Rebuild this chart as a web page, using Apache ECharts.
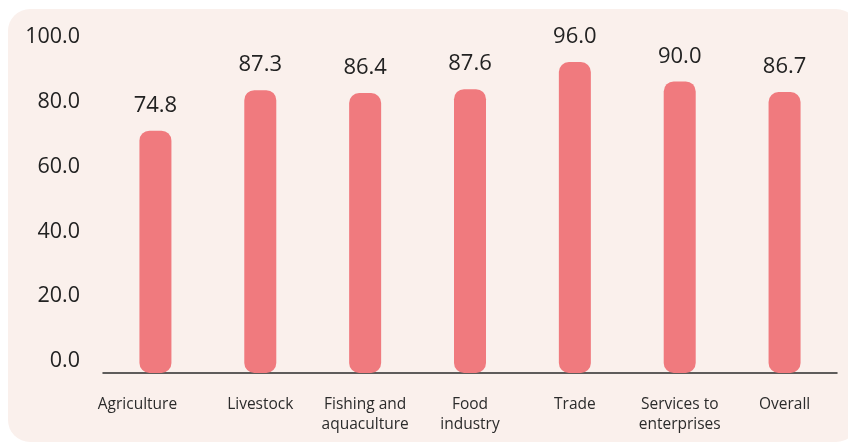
<!DOCTYPE html>
<html>
<head>
<meta charset="utf-8">
<script src="https://cdn.jsdelivr.net/npm/echarts@6/dist/echarts.min.js"></script>
<style>
  html, body { margin: 0; padding: 0; background: #ffffff; }
  #chart { width: 848px; height: 443px; }
</style>
</head>
<body>
<div id="chart"></div>
<script>
// Sector categories (x axis)
const categories = [
  'Agriculture',
  'Livestock',
  'Fishing and\naquaculture',
  'Food\nindustry',
  'Trade',
  'Services to\nenterprises',
  'Overall'
];

// Score per sector
const values = [74.8, 87.3, 86.4, 87.6, 96.0, 90.0, 86.7];

// Y axis range
const yMin = 0;
const yMax = 100;
const yStep = 20;

const FONT = '"Open Sans", "Liberation Sans", sans-serif';

const chart = echarts.init(document.getElementById('chart'), null, { renderer: 'canvas' });

// The first label sits a little left of its bar
const xData = categories.map((c, i) => i === 0
  ? { value: c, textStyle: { padding: [0, 36, 0, 0] } }
  : c);

chart.setOption({
  animation: false,
  backgroundColor: '#ffffff',
  graphic: [{
    type: 'rect',
    z: -10,
    silent: true,
    shape: { x: 8, y: 9, width: 850, height: 433, r: 22 },
    style: { fill: '#faf0ec' }
  }],
  grid: { left: 103, right: 11, top: 49, bottom: 70, containLabel: false },
  xAxis: {
    type: 'category',
    data: xData,
    axisLine: { show: true, lineStyle: { color: '#2b2b2b', width: 1.5 } },
    axisTick: { show: false },
    axisLabel: {
      color: '#2b2b2b',
      fontFamily: FONT,
      fontSize: 15.5,
      lineHeight: 20,
      margin: 22,
      interval: 0
    }
  },
  yAxis: {
    type: 'value',
    min: yMin,
    max: yMax,
    interval: yStep,
    splitLine: { show: false },
    axisLine: { show: false },
    axisTick: { show: false },
    axisLabel: {
      color: '#222222',
      fontFamily: FONT,
      fontSize: 21.5,
      margin: 23,
      verticalAlign: 'bottom',
      lineHeight: 24,
      padding: [0, 0, 0, 0],
      formatter: v => v.toFixed(1)
    }
  },
  series: [{
    type: 'bar',
    data: values,
    barWidth: 32,
    itemStyle: { color: '#f07a7e', borderRadius: 10 },
    label: {
      show: true,
      position: 'top',
      distance: 14,
      color: '#222222',
      fontFamily: FONT,
      fontSize: 22,
      formatter: p => p.value.toFixed(1)
    }
  }]
});
</script>
</body>
</html>
